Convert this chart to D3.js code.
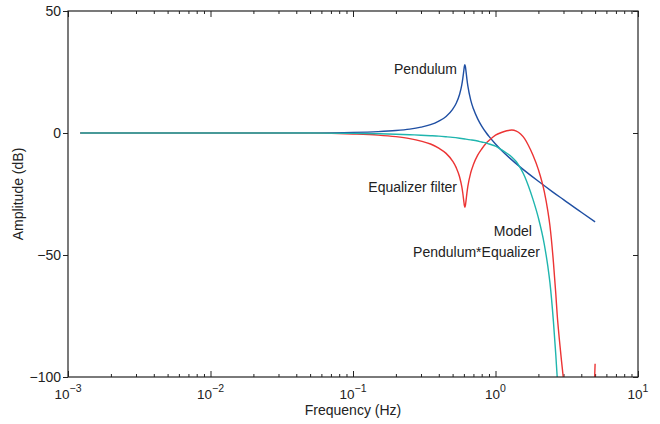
<!DOCTYPE html>
<html>
<head>
<meta charset="utf-8">
<script src="https://cdn.jsdelivr.net/npm/d3@7"></script>
<style>
  body { margin: 0; background: #fff; }
  text { font-family: "Liberation Sans", Arial, Helvetica, sans-serif; fill: #222; }
</style>
</head>
<body>
<script>
/**
 * Values (frequency in Hz, amplitude in dB).
 */
var freqPendulum = [0.00122, 0.01, 0.05, 0.1, 0.15, 0.2, 0.25, 0.3, 0.35, 0.4, 0.45, 0.5, 0.53, 0.56,
		    0.58, 0.59, 0.6, 0.605, 0.61, 0.615, 0.62, 0.63, 0.64, 0.67, 0.7, 0.75, 0.8, 0.863,
		    0.9, 1.0, 1.1, 1.26, 1.5, 2, 2.5, 3, 4, 5];
var ampPendulum = [0, 0, 0.06, 0.24, 0.55, 1.0, 1.6, 2.4, 3.4, 4.9, 6.8, 9.7, 12.2, 15.9,
		   19.7, 22.5, 25.8, 27.4, 28.0, 27.2, 25.6, 22.1, 19.2, 13.5, 9.9, 5.8, 2.85, 0,
		   -1.4, -4.5, -7.05, -10.3, -14.1, -19.8, -24.0, -27.3, -32.5, -36.4];

var freqEqualizer = [0.00122, 0.01, 0.05, 0.1, 0.15, 0.2, 0.25, 0.3, 0.35, 0.4, 0.45, 0.5, 0.53, 0.56,
		     0.58, 0.59, 0.6, 0.605, 0.61, 0.615, 0.62, 0.63, 0.64, 0.67, 0.7, 0.75, 0.8, 0.863,
		     0.9, 1.0, 1.1, 1.2, 1.3, 1.4, 1.5, 1.6, 1.7, 1.83, 2.0, 2.2, 2.33, 2.41, 2.55, 2.65,
		     2.71, 2.8, 2.9, 3.0, 3.2, 4.5, 4.9, 5.0];
var ampEqualizer = [0, 0, -0.06, -0.39, -0.85, -1.5, -2.3, -3.3, -4.5, -6.2, -8.35, -11.5, -14.2, -18.05,
		    -22.0, -24.8, -28.2, -29.8, -30.45, -29.7, -28.1, -24.65, -21.8, -16.3, -12.9, -9.1, -6.55, -4.1,
		    -3.1, -0.9, 0.2, 0.9, 1.2, 0.8, -0.4, -2.3, -5.0, -9.0, -15, -24, -32, -38, -53, -66,
		    -74.5, -84, -93, -101, -115, -125, -108, -94.6];

var freqModel = [0.00122, 0.01, 0.05, 0.1, 0.15, 0.2, 0.25, 0.3, 0.35, 0.4, 0.45, 0.5, 0.56, 0.61,
		 0.67, 0.75, 0.8, 0.863, 0.9, 1.0, 1.1, 1.2, 1.3, 1.4, 1.5, 1.6, 1.7, 1.83, 2.0, 2.2,
		 2.33, 2.41, 2.55, 2.65, 2.71, 2.8];
var ampModel = [0, 0, 0, -0.15, -0.3, -0.5, -0.7, -0.9, -1.1, -1.3, -1.55, -1.8, -2.15, -2.45,
		-2.8, -3.3, -3.7, -4.1, -4.5, -5.4, -6.85, -8.3, -9.8, -11.8, -14.5, -17.7, -21.6, -27.1, -34.8, -45.6,
		-54.7, -61.3, -77.3, -91, -100, -110];

var xMajor = [1e-3, 1e-2, 1e-1, 1, 10];
var yMajor = [-100, -50, 0, 50];

var W = 660, H = 424;
var boxLeft = 68, boxRight = 638, boxTop = 11, boxBottom = 377;
var axisColor = "#222";

var svg = d3.select("body").append("svg").attr("width", W).attr("height", H);

var x = d3.scaleLog().domain([1e-3, 10]).range([boxLeft, boxRight]);
var y = d3.scaleLinear().domain([-100, 50]).range([boxBottom, boxTop]);

/**
 * Minor ticks are the log ticks that are not decades.
 */
var xMinor = x.ticks().filter(function (d) {
    return Math.abs(Math.log10(d) - Math.round(Math.log10(d))) > 1e-6;
});

function styleAxis(g) {
    g.select(".domain").remove();
    g.selectAll(".tick line").attr("stroke", axisColor).attr("stroke-width", 1);
}

/**
 * Inward ticks on the bottom and the top of the box.
 */
svg.append("g").attr("transform", "translate(0," + boxBottom + ")")
    .call(d3.axisBottom(x).tickValues(xMinor).tickSize(-3).tickFormat(""))
    .call(styleAxis);
svg.append("g").attr("transform", "translate(0," + boxBottom + ")")
    .call(d3.axisBottom(x).tickValues(xMajor).tickSize(-6).tickFormat(""))
    .call(styleAxis);
svg.append("g").attr("transform", "translate(0," + boxTop + ")")
    .call(d3.axisTop(x).tickValues(xMinor).tickSize(-3).tickFormat(""))
    .call(styleAxis);
svg.append("g").attr("transform", "translate(0," + boxTop + ")")
    .call(d3.axisTop(x).tickValues(xMajor).tickSize(-6).tickFormat(""))
    .call(styleAxis);

/**
 * Left axis with labels, right axis with inward ticks only.
 */
var yAxisLeft = svg.append("g").attr("transform", "translate(" + boxLeft + ",0)")
    .call(d3.axisLeft(y).tickValues(yMajor).tickSize(5).tickPadding(2))
    .call(styleAxis);
yAxisLeft.attr("font-family", null).attr("font-size", null);
yAxisLeft.selectAll("text").attr("font-size", 14).attr("fill", "#222");
svg.append("g").attr("transform", "translate(" + boxRight + ",0)")
    .call(d3.axisRight(y).tickValues(yMajor).tickSize(-5).tickFormat(""))
    .call(styleAxis);

/**
 * Decade labels written as 10 with a raised exponent.
 */
var xLab = svg.selectAll(".xlab").data(xMajor).enter().append("text")
    .attr("class", "xlab")
    .attr("x", function (d) { return x(d); })
    .attr("y", boxBottom + 22)
    .attr("text-anchor", "middle")
    .attr("font-size", 13.5);
xLab.append("tspan").text("10");
xLab.append("tspan").attr("dy", -7).attr("font-size", 10.5)
    .text(function (d) {
	var e = Math.round(Math.log10(d));
	return e < 0 ? "\u2212" + (-e) : "" + e;
    });

svg.append("text").attr("x", (boxLeft + boxRight) / 2).attr("y", 415)
    .attr("text-anchor", "middle").attr("font-size", 14).text("Frequency (Hz)");
svg.append("text").attr("transform", "translate(23," + ((boxTop + boxBottom) / 2) + ") rotate(-90)")
    .attr("text-anchor", "middle").attr("font-size", 14).text("Amplitude (dB)");

/**
 * The three curves, clipped to the box.
 */
svg.append("clipPath").attr("id", "plotClip").append("rect")
    .attr("x", boxLeft).attr("y", boxTop).attr("width", boxRight - boxLeft).attr("height", boxBottom - boxTop);

var line = d3.line()
    .x(function (d) { return x(d[0]); })
    .y(function (d) { return y(d[1]); })
    .curve(d3.curveMonotoneX);

var series = [
    [freqPendulum, ampPendulum, "#1f4fa3"],
    [freqEqualizer, ampEqualizer, "#ec3434"],
    [freqModel, ampModel, "#1fb5ae"]
];
var plot = svg.append("g").attr("clip-path", "url(#plotClip)");
for (var i = 0; i < series.length; ++i) {
    var pts = d3.zip(series[i][0], series[i][1]);
    plot.append("path").datum(pts)
	.attr("d", line)
	.attr("fill", "none")
	.attr("stroke", series[i][2])
	.attr("stroke-width", 1.4);
}

/**
 * The frame goes on top of the curves.
 */
svg.append("rect").attr("x", boxLeft).attr("y", boxTop)
    .attr("width", boxRight - boxLeft).attr("height", boxBottom - boxTop)
    .attr("fill", "none").attr("stroke", axisColor).attr("stroke-width", 1.2);

/**
 * Curve names, placed in data coordinates and right aligned.
 */
var notes = [
    ["Pendulum", 0.537, 24],
    ["Equalizer filter", 0.537, -24.2],
    ["Model", 1.8, -42.4],
    ["Pendulum*Equalizer", 2.05, -50.8]
];
svg.selectAll(".note").data(notes).enter().append("text")
    .attr("class", "note")
    .attr("x", function (d) { return x(d[1]); })
    .attr("y", function (d) { return y(d[2]); })
    .attr("text-anchor", "end")
    .attr("font-size", 14)
    .text(function (d) { return d[0]; });
</script>
</body>
</html>
